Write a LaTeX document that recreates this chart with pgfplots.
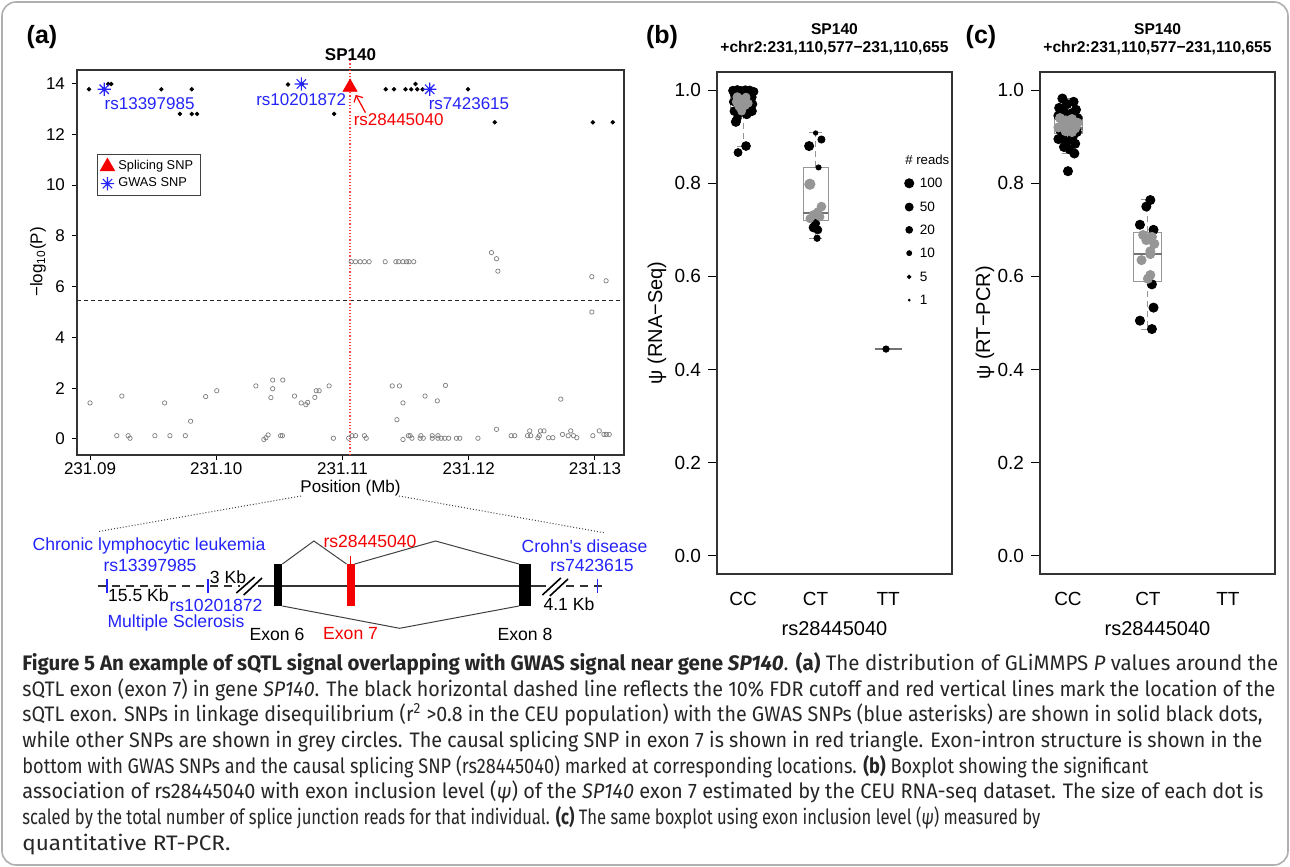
\documentclass[border=0pt]{standalone}
\usepackage{graphicx}
\usepackage{pgfplots}
\pgfplotsset{compat=1.18}
\usepgfplotslibrary{statistics}
\usetikzlibrary{arrows.meta}
\usepackage{fontspec}
\setmainfont{Liberation Sans}
\newfontfamily\capfont[FakeStretch=0.93]{Fira Sans}

\definecolor{gwas}{RGB}{35,35,250}
\definecolor{spl}{RGB}{245,0,0}
\definecolor{ptgray}{RGB}{150,150,150}
\definecolor{medgray}{RGB}{115,115,115}
\definecolor{circgray}{RGB}{125,125,125}
\definecolor{framegray}{RGB}{175,175,175}

\newcommand\fsz[1]{\fontsize{#1}{#1}\selectfont}
% one caption line, set to the width it has in the figure
\newcommand\capline[2]{\resizebox{#1}{\height}{#2}}

% R's pch=8 asterisk: a plus and a cross on top of each other
\pgfdeclareplotmark{rast}{%
  \pgfpathmoveto{\pgfqpoint{-\pgfplotmarksize}{0pt}}\pgfpathlineto{\pgfqpoint{\pgfplotmarksize}{0pt}}%
  \pgfpathmoveto{\pgfqpoint{0pt}{-\pgfplotmarksize}}\pgfpathlineto{\pgfqpoint{0pt}{\pgfplotmarksize}}%
  \pgfpathmoveto{\pgfqpoint{-0.707\pgfplotmarksize}{-0.707\pgfplotmarksize}}\pgfpathlineto{\pgfqpoint{0.707\pgfplotmarksize}{0.707\pgfplotmarksize}}%
  \pgfpathmoveto{\pgfqpoint{-0.707\pgfplotmarksize}{0.707\pgfplotmarksize}}\pgfpathlineto{\pgfqpoint{0.707\pgfplotmarksize}{-0.707\pgfplotmarksize}}%
  \pgfusepathqstroke}

\pgfplotsset{
  rplot/.style={scale only axis, anchor=south west, clip=false,
    axis line style={black!80, line width=0.6pt},
    tick style={black, line width=0.5pt}, tick align=outside,
    xtick pos=left, ytick pos=left,
    /pgf/number format/assume math mode=true},
  boxplot/draw/lower whisker/.code={%
    \draw[densely dashed, ptgray, line width=0.5pt] (boxplot cs:\pgfplotsboxplotvalue{lower quartile}) -- (boxplot cs:\pgfplotsboxplotvalue{lower whisker});
    \draw[ptgray, line width=0.5pt] (boxplot whisker cs:\pgfplotsboxplotvalue{lower whisker},0) -- (boxplot whisker cs:\pgfplotsboxplotvalue{lower whisker},1);},
  boxplot/draw/upper whisker/.code={%
    \draw[densely dashed, ptgray, line width=0.5pt] (boxplot cs:\pgfplotsboxplotvalue{upper quartile}) -- (boxplot cs:\pgfplotsboxplotvalue{upper whisker});
    \draw[ptgray, line width=0.5pt] (boxplot whisker cs:\pgfplotsboxplotvalue{upper whisker},0) -- (boxplot whisker cs:\pgfplotsboxplotvalue{upper whisker},1);},
  rbox/.style={ptgray, line width=0.5pt, forget plot, boxplot/draw direction=y,
    boxplot/every median/.style={medgray, line width=1.3pt}},
  sized/.style={scatter, only marks, mark=*, forget plot,
    scatter/use mapped color={draw=#1, fill=#1},
    visualization depends on={\thisrow{r}\as\rr},
    scatter/@pre marker code/.append style={/tikz/mark size=\rr pt}},
}

\begin{document}
\begin{tikzpicture}
\useasboundingbox (0,0) rectangle (645pt,433.5pt);

% ---------------- (a) GLiMMPS p-values around SP140 ----------------
\begin{axis}[rplot, at={(38.5pt,206pt)}, width=273.5pt, height=192.5pt,
  xmin=-1.03, xmax=42.3, ymin=-0.63, ymax=14.53,
  xtick={0,10,20,30,40}, xticklabels={231.09,231.10,231.11,231.12,231.13},
  ytick={0,2,4,6,8,10,12,14},
  major tick length=2.5pt,
  ticklabel style={font=\fsz{8.5}},
  xticklabel style={yshift=2pt},
  legend style={at={(0.0366,0.782)}, anchor=north west, font=\fsz{6.4},
    draw=black!75, line width=0.5pt, inner xsep=1.5pt, inner ysep=1pt,
    row sep=-1.5pt},
  legend cell align=left]
% FDR cutoff and exon 7 position
\addplot[black!85, line width=0.5pt, dash pattern=on 2pt off 1.5pt, forget plot]
  coordinates {(-1.03,5.44) (42.3,5.44)};
\addplot[spl!75, line width=0.6pt, densely dotted, forget plot]
  coordinates {(20.6,-0.63) (20.6,15.0)};
% other SNPs (grey circles), x in kb from 231.09 Mb
\addplot[only marks, mark=o, mark size=1.1pt, circgray, mark options={line width=0.35pt}, forget plot]
  table {
x y
0.00 1.42
2.52 1.69
2.12 0.13
3.02 0.13
3.17 0.03
5.14 0.13
5.91 1.42
6.33 0.13
7.55 0.13
7.97 0.70
9.16 1.67
10.04 1.90
13.14 2.09
13.77 -0.02
13.94 0.05
14.11 0.16
14.47 2.32
14.47 1.98
14.33 1.63
15.27 2.32
15.10 0.13
15.24 0.13
16.20 1.69
16.73 1.42
17.10 1.35
17.24 1.44
17.81 1.64
17.92 1.90
18.15 1.90
18.94 2.09
19.28 0.03
20.49 0.03
20.75 0.13
21.03 0.13
21.74 0.13
21.88 0.03
23.94 2.09
24.51 2.09
24.79 1.42
24.31 0.76
24.79 -0.02
25.22 0.13
25.36 0.13
25.50 0.03
26.21 0.13
26.15 0.03
26.40 0.03
26.54 1.69
27.11 0.13
27.11 0.03
27.51 1.50
27.56 0.13
27.56 0.03
27.82 0.03
28.10 0.03
28.41 0.03
28.16 2.11
29.03 0.03
29.29 0.03
30.73 0.03
32.20 0.38
33.36 0.13
33.64 0.13
34.66 0.13
34.83 0.32
34.91 0.13
35.48 0.05
35.59 0.13
35.68 0.32
35.96 0.32
36.33 0.05
36.66 0.05
37.29 1.57
37.43 0.18
37.88 0.13
38.08 0.32
38.30 0.13
38.56 0.05
39.83 0.13
40.34 0.32
40.71 0.18
40.90 0.18
41.13 0.18
20.69 6.98
21.03 6.98
21.40 6.98
21.74 6.98
22.11 6.98
23.38 6.98
24.23 6.98
24.45 6.98
24.79 6.98
25.07 6.98
25.27 6.98
25.64 6.98
31.80 7.34
32.20 7.10
32.31 6.61
39.75 6.39
40.88 6.23
39.75 5.00
};
% SNPs in LD with GWAS SNPs (black dots)
\addplot[only marks, mark=*, mark size=0.9pt, black, forget plot]
  table {
x y
-0.08 13.77
1.13 13.77
1.45 13.98
1.68 13.98
5.65 13.77
8.06 13.77
7.12 12.80
8.06 12.80
8.48 12.80
15.69 13.96
16.80 13.98
19.34 12.80
23.43 13.77
24.08 13.77
24.99 13.77
25.44 13.77
25.78 13.98
25.92 13.77
26.35 13.77
29.94 13.77
32.06 12.47
39.83 12.47
41.41 12.47
};
\addplot[only marks, mark=triangle*, mark size=4pt, spl]
  coordinates {(20.6,13.85)};
\addlegendentry{Splicing SNP}
\addplot[only marks, mark=rast, mark size=3.3pt, gwas, line width=0.55pt]
  coordinates {(1.13,13.77) (16.74,13.98) (26.91,13.77)};
\addlegendentry{GWAS SNP}
\begin{scope}[font=\fsz{8.5}, inner sep=0pt]
\node[gwas] at (axis cs:4.72,13.2) {rs13397985};
\node[gwas] at (axis cs:16.73,13.37) {rs10201872};
\node[gwas] at (axis cs:30.02,13.2) {rs7423615};
\node[spl] at (axis cs:24.45,12.56) {rs28445040};
\end{scope}
\draw[spl, line width=0.6pt, -{Straight Barb[length=2.5pt]}] (axis cs:21.82,12.85) -- (axis cs:21.05,13.55);
\end{axis}

% ---------------- (b) psi from RNA-Seq ----------------
\begin{axis}[rplot, at={(358.5pt,146.5pt)}, width=117.5pt, height=251pt,
  xmin=0.64, xmax=3.88, ymin=-0.039, ymax=1.039,
  xtick={1,2,3}, xticklabels={CC,CT,TT}, xtick style={draw=none},
  ytick={0,0.2,0.4,0.6,0.8,1.0},
  yticklabel style={/pgf/number format/fixed, /pgf/number format/fixed zerofill, /pgf/number format/precision=1},
  major tick length=4.5pt,
  ticklabel style={font=\fsz{9.5}},
  xticklabel style={yshift=-1pt}]
\addplot[sized=black] table {
x y r
0.86 0.999 2.2
0.92 1.000 2.3
0.97 0.998 2.3
1.03 1.000 2.2
1.09 0.999 2.3
1.15 0.997 2.0
0.88 0.990 2.0
1.12 0.985 2.2
0.86 0.975 1.8
1.14 0.970 1.8
0.88 0.955 2.2
1.12 0.955 2.3
0.95 0.950 2.0
1.05 0.948 2.2
0.92 0.940 2.0
0.90 0.932 2.3
1.08 0.960 2.0
1.04 0.880 2.2
0.93 0.866 2.0
2.00 0.908 1.1
2.08 0.894 1.8
1.91 0.880 2.3
2.04 0.834 1.3
2.00 0.714 2.0
1.97 0.705 2.2
2.03 0.700 2.0
2.02 0.682 1.6
2.97 0.444 1.6
};
\addplot[sized=ptgray] table {
x y r
0.92 0.985 2.2
0.98 0.978 2.6
1.04 0.985 2.0
0.95 0.965 2.3
1.02 0.968 2.4
0.90 0.975 1.8
1.07 0.972 2.0
0.98 0.955 2.0
1.92 0.798 2.6
2.08 0.750 2.2
2.03 0.739 2.0
1.97 0.732 2.2
2.06 0.728 2.0
1.92 0.724 2.0
};
\addplot[rbox, boxplot prepared={draw position=1, lower whisker=0.88, lower quartile=0.952,
  median=0.96, upper quartile=0.998, upper whisker=1.0, box extend=0.345, whisker extend=0.17}]
  coordinates {};
\addplot[rbox, boxplot prepared={draw position=2, lower whisker=0.682, lower quartile=0.72,
  median=0.736, upper quartile=0.834, upper whisker=0.908, box extend=0.345, whisker extend=0.17}]
  coordinates {};
\addplot[rbox, boxplot prepared={draw position=3, lower whisker=0.444, lower quartile=0.444,
  median=0.444, upper quartile=0.444, upper whisker=0.444, box extend=0.37, whisker extend=0.17}]
  coordinates {};
% size key for number of reads
\addplot[sized=black] table {
x y r
3.29 0.800 2.3
3.29 0.749 2.0
3.29 0.700 1.7
3.29 0.650 1.25
3.29 0.599 0.9
3.29 0.549 0.45
};
\begin{scope}[font=\fsz{6.8}, inner sep=0pt, anchor=west]
\node[font=\fsz{6.6}, anchor=center] at (axis cs:3.54,0.85) {\# reads};
\node at (axis cs:3.43,0.800) {100};
\node at (axis cs:3.43,0.749) {50};
\node at (axis cs:3.43,0.700) {20};
\node at (axis cs:3.43,0.650) {10};
\node at (axis cs:3.43,0.599) {5};
\node at (axis cs:3.43,0.549) {1};
\end{scope}
\end{axis}

% ---------------- (c) psi from RT-PCR ----------------
\begin{axis}[rplot, at={(520pt,146.5pt)}, width=117.5pt, height=251pt,
  xmin=0.65, xmax=3.59, ymin=-0.039, ymax=1.039,
  xtick={1,2,3}, xticklabels={CC,CT,TT}, xtick style={draw=none},
  ytick={0,0.2,0.4,0.6,0.8,1.0},
  yticklabel style={/pgf/number format/fixed, /pgf/number format/fixed zerofill, /pgf/number format/precision=1},
  major tick length=4.5pt,
  ticklabel style={font=\fsz{9.5}},
  xticklabel style={yshift=-1pt}]
\addplot[only marks, mark=*, mark size=2.3pt, black, forget plot] table {
x y
0.93 0.982
1.07 0.975
0.99 0.970
0.89 0.962
1.10 0.958
0.95 0.952
1.04 0.950
0.88 0.945
1.12 0.940
0.90 0.915
1.11 0.910
0.93 0.902
1.06 0.900
0.88 0.895
0.98 0.890
1.09 0.885
0.95 0.878
1.02 0.873
1.08 0.864
1.00 0.826
2.03 0.764
1.98 0.750
1.90 0.711
2.07 0.700
2.05 0.583
2.07 0.533
1.90 0.505
2.05 0.487
};
\addplot[only marks, mark=*, mark size=2.3pt, ptgray, forget plot] table {
x y
0.90 0.940
0.97 0.935
1.05 0.938
1.12 0.930
0.93 0.925
1.01 0.922
1.09 0.918
0.88 0.920
0.97 0.912
1.05 0.910
1.94 0.689
2.05 0.685
1.98 0.678
2.08 0.670
2.03 0.654
1.92 0.635
2.03 0.648
2.03 0.603
2.00 0.595
};
\addplot[rbox, boxplot prepared={draw position=1.01, lower whisker=0.865, lower quartile=0.906,
  median=0.918, upper quartile=0.944, upper whisker=0.983, box extend=0.35, whisker extend=0.17}]
  coordinates {};
\addplot[rbox, boxplot prepared={draw position=2, lower whisker=0.487, lower quartile=0.59,
  median=0.648, upper quartile=0.695, upper whisker=0.765, box extend=0.35, whisker extend=0.17}]
  coordinates {};
\end{axis}

% ---------------- labels, gene structure and caption (pixel grid) ----------------
\begin{scope}[x=0.5pt, y=-0.5pt, shift={(0pt,433.5pt)}]
\draw[framegray, line width=0.8pt, rounded corners=7pt] (2,2) rectangle (1288,865);

\node[font=\bfseries\fsz{12.5}] at (42,37) {(a)};
\node[font=\bfseries\fsz{12.5}] at (662,37) {(b)};
\node[font=\bfseries\fsz{12.5}] at (981,37) {(c)};

\node[font=\bfseries\fsz{8.5}] at (350.5,55) {SP140};
\node[rotate=90, font=\fsz{8.5}] at (38,262) {−log\textsubscript{10}(P)};
\node[font=\fsz{8.5}] at (350.5,488) {Position (Mb)};

\node[font=\bfseries\fontsize{7.8}{9}\selectfont, align=center] at (834.5,39) {SP140\\+chr2:231,110,577−231,110,655};
\node[font=\bfseries\fontsize{7.8}{9}\selectfont, align=center] at (1157.5,39) {SP140\\+chr2:231,110,577−231,110,655};
\node[rotate=90, font=\fsz{10}] at (657,323) {ψ (RNA−Seq)};
\node[rotate=90, font=\fsz{10}] at (985,323) {ψ (RT−PCR)};
\node[font=\fsz{10}] at (834.5,629) {rs28445040};
\node[font=\fsz{10}] at (1157.5,629) {rs28445040};

% exon-intron structure
\draw[black!75, densely dotted, line width=0.5pt] (301,496) -- (97.6,531.7);
\draw[black!75, densely dotted, line width=0.5pt] (399,496) -- (603.7,532.7);
\draw[black!80, line width=0.8pt, dash pattern=on 4pt off 3pt] (97.6,586) -- (240,586);
\draw[black!80, line width=0.8pt] (258,586) -- (546,586);
\draw[black!80, line width=0.8pt, dash pattern=on 4pt off 3pt] (566,586) -- (603.7,586);
\draw[black, line width=0.8pt] (236.3,593) -- (254.7,577) (243.7,595) -- (262,578);
\draw[black, line width=0.8pt] (542.4,595) -- (560.8,578) (549.8,596) -- (568,579);
\draw[gwas, line width=0.8pt] (107,579) -- (107,593) (207.8,579) -- (207.8,593) (597.6,579) -- (597.6,593);
\fill[black] (274.3,564) rectangle (282.4,606);
\fill[spl] (346.5,564) rectangle (354.7,606);
\fill[black] (519,564) rectangle (531.4,606);
\draw[spl, line width=0.8pt] (350.6,556) -- (350.6,564);
\draw[black!75, line width=0.5pt] (282.4,564) -- (313.9,541) -- (346.5,564);
\draw[black!75, line width=0.5pt] (354.7,564) -- (435.5,541) -- (519,564);
\draw[black!75, line width=0.5pt] (282.4,606) -- (399.6,628.3) -- (519,606);
\begin{scope}[font=\fsz{8.8}, inner sep=0pt]
\node[gwas] at (149,546) {Chronic lymphocytic leukemia};
\node[gwas] at (150,565) {rs13397985};
\node[gwas] at (216,605) {rs10201872};
\node[gwas] at (176,622.5) {Multiple Sclerosis};
\node[gwas] at (584.5,546) {Crohn\textquotesingle s disease};
\node[gwas] at (592,565) {rs7423615};
\node[spl] at (370,541) {rs28445040};
\node at (228,577) {3 Kb};
\node at (138.4,595) {15.5 Kb};
\node at (569,604) {4.1 Kb};
\node at (277,634) {Exon 6};
\node[spl] at (350.6,634) {Exon 7};
\node at (525,634) {Exon 8};
\end{scope}

% caption
\node[anchor=north west, inner sep=0pt, align=left, text=black!85,
  font=\capfont\fontsize{10.5}{12.85}\selectfont] at (22,652) {%
\capline{628pt}{\textbf{Figure 5 An example of sQTL signal overlapping with GWAS signal near gene \textit{SP140}}. \textbf{(a)} The distribution of GLiMMPS \textit{P} values around the}\\
\capline{626.5pt}{sQTL exon (exon 7) in gene \textit{SP140}. The black horizontal dashed line reflects the 10\% FDR cutoff and red vertical lines mark the location of the}\\
\capline{620pt}{sQTL exon. SNPs in linkage disequilibrium (r\textsuperscript{2} >0.8 in the CEU population) with the GWAS SNPs (blue asterisks) are shown in solid black dots,}\\
\capline{620pt}{while other SNPs are shown in grey circles. The causal splicing SNP in exon 7 is shown in red triangle. Exon-intron structure is shown in the}\\
\capline{563pt}{bottom with GWAS SNPs and the causal splicing SNP (rs28445040) marked at corresponding locations. \textbf{(b)} Boxplot showing the significant}\\
\capline{620.5pt}{association of rs28445040 with exon inclusion level (\textit{ψ}) of the \textit{SP140} exon 7 estimated by the CEU RNA-seq dataset. The size of each dot is}\\
\capline{509pt}{scaled by the total number of splice junction reads for that individual. \textbf{(c)} The same boxplot using exon inclusion level (\textit{ψ}) measured by}\\
\capline{104pt}{quantitative RT-PCR.}};
\end{scope}
\end{tikzpicture}
\end{document}
